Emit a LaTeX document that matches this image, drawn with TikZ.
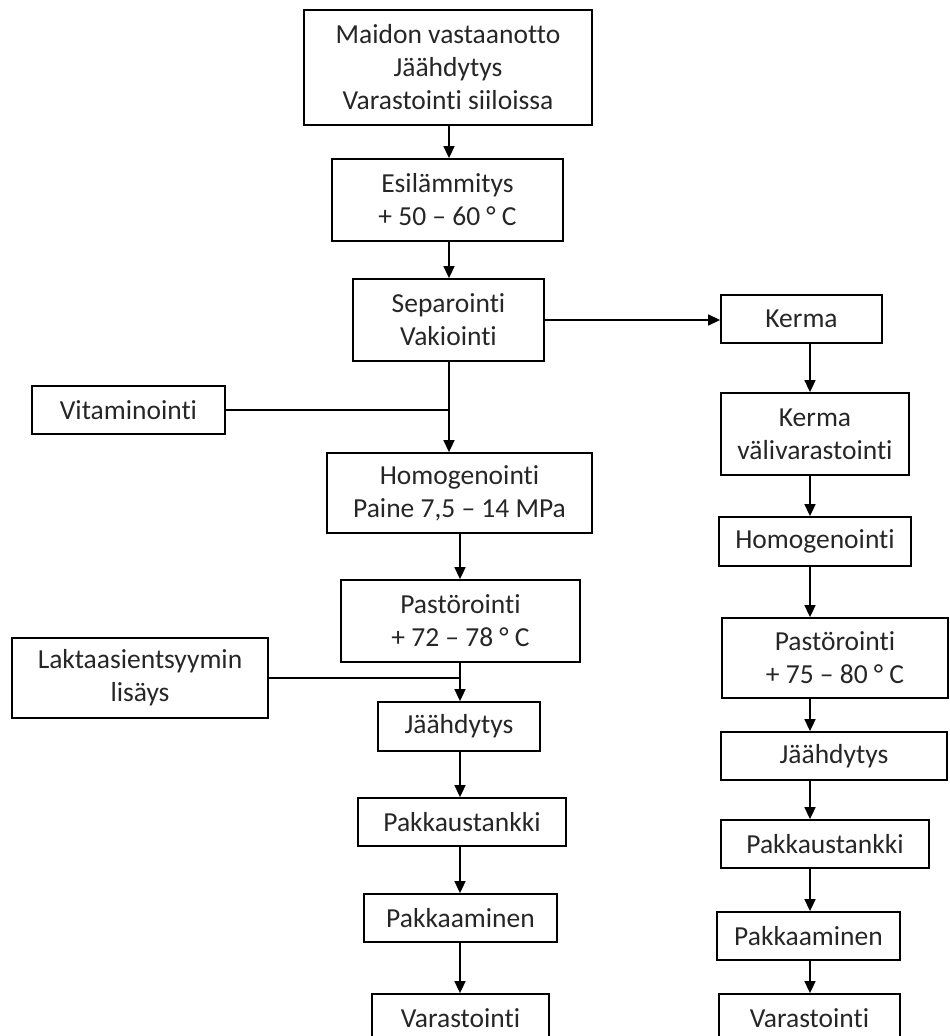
\documentclass[tikz,border=0pt]{standalone}
\usepackage{fontspec}
\setmainfont{Carlito}[Ligatures=NoCommon]
\usetikzlibrary{arrows.meta}

\begin{document}
\begin{tikzpicture}[x=1pt, y=-1pt,
  box/.style={draw, line width=1.8pt, inner sep=0pt, align=center,
    text=black!85, font=\fontsize{27.5}{33}\selectfont},
  sz/.style 2 args={minimum width=#1pt, minimum height=#2pt},
  arr/.style={line width=1.6pt, -{Triangle[length=12pt, width=11pt]}},
  link/.style={line width=1.6pt}]
\useasboundingbox (0,0) rectangle (950,1036);
\clip (0,0) rectangle (950,1036);
% main column
\node[box, sz={288}{115}] (raw) at (448,67.5) {Maidon vastaanotto\\Jäähdytys\\Varastointi siiloissa};
\node[box, sz={231}{82}] (esil) at (447.5,200) {Esilämmitys\\+ 50 – 60 ° C};
\node[box, sz={191}{82}] (sep) at (448.5,320) {Separointi\\Vakiointi};
\node[box, sz={193}{48}] (vit) at (128.5,410) {Vitaminointi};
\node[box, sz={265}{80}] (homog) at (459.5,493) {Homogenointi\\Paine 7,5 – 14 MPa};
\node[box, sz={239}{82}] (past) at (460.5,621) {Pastörointi\\+ 72 – 78 ° C};
\node[box, sz={256}{80}] (lakt) at (140,678) {Laktaasientsyymin\\lisäys};
\node[box, sz={162}{49}] (jaah) at (459,726.5) {Jäähdytys};
\node[box, sz={208}{48}] (pakt) at (462,822) {Pakkaustankki};
\node[box, sz={193}{48}] (pakm) at (460.5,918) {Pakkaaminen};
\node[box, sz={177}{48}] (var) at (460.5,1018) {Varastointi};
% cream column
\node[box, sz={161}{48}] (kerma) at (801.5,319) {Kerma};
\node[box, sz={188}{82}] (kermav) at (815,434) {Kerma\\välivarastointi};
\node[box, sz={192}{49}] (homogR) at (815,541.5) {Homogenointi};
\node[box, sz={226}{80}] (pastR) at (835,658) {Pastörointi\\+ 75 – 80 ° C};
\node[box, sz={226}{48}] (jaahR) at (834,756) {Jäähdytys};
\node[box, sz={208}{48}] (paktR) at (825,844) {Pakkaustankki};
\node[box, sz={183}{48}] (pakmR) at (808.5,936) {Pakkaaminen};
\node[box, sz={181}{48}] (varR) at (809.5,1018) {Varastointi};
\coordinate (tc) at (449,0);
\coordinate (mc) at (460,0);
\coordinate (rc) at (810,0);
\coordinate (vitj) at (vit.east -| tc);
\coordinate (laktj) at (lakt.east -| mc);
% connectors
\draw[arr] (raw.south -| tc) -- (esil.north -| tc);
\draw[arr] (esil.south -| tc) -- (sep.north -| tc);
\draw[arr] (sep.south -| tc) -- (homog.north -| tc);
\draw[link] (vit.east) -- (vitj);
\draw[arr] (homog.south -| mc) -- (past.north -| mc);
\draw[arr] (past.south -| mc) -- (jaah.north -| mc);
\draw[link] (lakt.east) -- (laktj);
\draw[arr] (jaah.south -| mc) -- (pakt.north -| mc);
\draw[arr] (pakt.south -| mc) -- (pakm.north -| mc);
\draw[arr] (pakm.south -| mc) -- (var.north -| mc);
\draw[arr] (sep.east) -- (kerma.west |- sep.east);
\draw[arr] (kerma.south -| rc) -- (kermav.north -| rc);
\draw[arr] (kermav.south -| rc) -- (homogR.north -| rc);
\draw[arr] (homogR.south -| rc) -- (pastR.north -| rc);
\draw[arr] (pastR.south -| rc) -- (jaahR.north -| rc);
\draw[arr] (jaahR.south -| rc) -- (paktR.north -| rc);
\draw[arr] (paktR.south -| rc) -- (pakmR.north -| rc);
\draw[arr] (pakmR.south -| rc) -- (varR.north -| rc);
\end{tikzpicture}
\end{document}
